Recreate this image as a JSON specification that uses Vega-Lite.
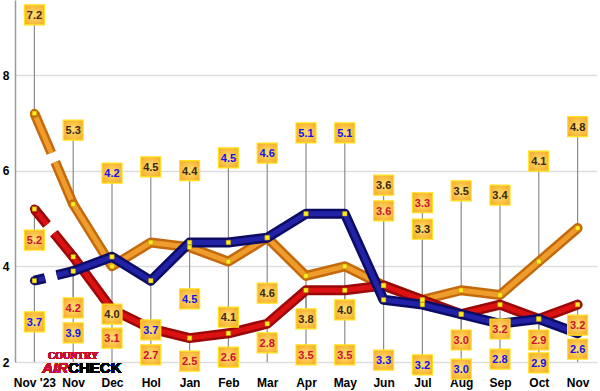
{
  "$schema": "https://vega.github.io/schema/vega-lite/v6.json",
  "width": 582,
  "height": 362,
  "autosize": "none",
  "padding": {"left": 15, "right": 3, "top": 0, "bottom": 29},
  "background": "white",
  "config": {"view": {"stroke": null}, "font": "Liberation Sans"},
  "data": {"values": [
    {"m": "Nov '23", "s": "A", "v": 7.2, "lab": 9.26},
    {"m": "Nov", "s": "A", "v": 5.3, "lab": 6.85},
    {"m": "Dec", "s": "A", "v": 4.0, "lab": 3.0},
    {"m": "Hol", "s": "A", "v": 4.5, "lab": 6.08},
    {"m": "Jan", "s": "A", "v": 4.4, "lab": 6.0},
    {"m": "Feb", "s": "A", "v": 4.1, "lab": 2.94},
    {"m": "Mar", "s": "A", "v": 4.6, "lab": 3.44},
    {"m": "Apr", "s": "A", "v": 3.8, "lab": 2.9},
    {"m": "May", "s": "A", "v": 4.0, "lab": 3.09},
    {"m": "Jun", "s": "A", "v": 3.6, "lab": 5.7},
    {"m": "Jul", "s": "A", "v": 3.3, "lab": 4.78},
    {"m": "Aug", "s": "A", "v": 3.5, "lab": 5.58},
    {"m": "Sep", "s": "A", "v": 3.4, "lab": 5.49},
    {"m": "Oct", "s": "A", "v": 4.1, "lab": 6.2},
    {"m": "Nov ", "s": "A", "v": 4.8, "lab": 6.92},
    {"m": "Nov '23", "s": "B", "v": 5.2, "lab": 4.55},
    {"m": "Nov", "s": "B", "v": 4.2, "lab": 3.13},
    {"m": "Dec", "s": "B", "v": 3.1, "lab": 2.5},
    {"m": "Hol", "s": "B", "v": 2.7, "lab": 2.15},
    {"m": "Jan", "s": "B", "v": 2.5, "lab": 2.02},
    {"m": "Feb", "s": "B", "v": 2.6, "lab": 2.1},
    {"m": "Mar", "s": "B", "v": 2.8, "lab": 2.4},
    {"m": "Apr", "s": "B", "v": 3.5, "lab": 2.15},
    {"m": "May", "s": "B", "v": 3.5, "lab": 2.15},
    {"m": "Jun", "s": "B", "v": 3.6, "lab": 5.16},
    {"m": "Jul", "s": "B", "v": 3.3, "lab": 5.33},
    {"m": "Aug", "s": "B", "v": 3.0, "lab": 2.46},
    {"m": "Sep", "s": "B", "v": 3.2, "lab": 2.69},
    {"m": "Oct", "s": "B", "v": 2.9, "lab": 2.46},
    {"m": "Nov ", "s": "B", "v": 3.2, "lab": 2.77},
    {"m": "Nov '23", "s": "C", "v": 3.7, "lab": 2.84},
    {"m": "Nov", "s": "C", "v": 3.9, "lab": 2.61},
    {"m": "Dec", "s": "C", "v": 4.2, "lab": 5.95},
    {"m": "Hol", "s": "C", "v": 3.7, "lab": 2.67},
    {"m": "Jan", "s": "C", "v": 4.5, "lab": 3.32},
    {"m": "Feb", "s": "C", "v": 4.5, "lab": 6.27},
    {"m": "Mar", "s": "C", "v": 4.6, "lab": 6.37},
    {"m": "Apr", "s": "C", "v": 5.1, "lab": 6.79},
    {"m": "May", "s": "C", "v": 5.1, "lab": 6.79},
    {"m": "Jun", "s": "C", "v": 3.3, "lab": 2.04},
    {"m": "Jul", "s": "C", "v": 3.2, "lab": 1.94},
    {"m": "Aug", "s": "C", "v": 3.0, "lab": 1.85},
    {"m": "Sep", "s": "C", "v": 2.8, "lab": 2.06},
    {"m": "Oct", "s": "C", "v": 2.9, "lab": 1.98},
    {"m": "Nov ", "s": "C", "v": 2.6, "lab": 2.27}
  ]},
  "encoding": {
    "x": {
      "field": "m", "type": "ordinal",
      "sort": ["Nov '23","Nov","Dec","Hol","Jan","Feb","Mar","Apr","May","Jun","Jul","Aug","Sep","Oct","Nov "],
      "scale": {"type": "point", "padding": 0.5},
      "axis": {"title": null, "labelAngle": 0, "domain": false, "ticks": false, "tickSize": 0, "labelPadding": 15, "labelFont": "Liberation Sans", "labelFontSize": 12, "labelFontWeight": "bold", "labelColor": "#000000", "labelExpr": "trim(datum.label)"}
    }
  },
  "layer": [
    {
      "mark": {"type": "rule", "color": "#8c8c8c", "strokeWidth": 1.2},
      "encoding": {
        "y": {"field": "v", "type": "quantitative", "scale": {"domain": [2, 9.57], "nice": false, "zero": false},
          "axis": {"title": null, "values": [2, 4, 6, 8], "grid": true, "gridColor": "#dddddd", "gridWidth": 1.5, "domain": true, "domainColor": "#9a9a9a", "domainWidth": 1.5, "ticks": false, "labelPadding": 6, "labelFont": "Liberation Sans", "labelFontSize": 12, "labelFontWeight": "bold", "labelColor": "#000000"}},
        "y2": {"field": "lab"}
      }
    },
    {
      "transform": [
        {"aggregate": [{"op": "min", "field": "lab", "as": "minL"}, {"op": "min", "field": "v", "as": "minV"}], "groupby": ["m"]},
        {"calculate": "min(datum.minL, datum.minV)", "as": "lo"}
      ],
      "mark": {"type": "rule", "color": "#8c8c8c", "strokeWidth": 1.2},
      "encoding": {"y": {"field": "lo", "type": "quantitative"}, "y2": {"datum": 2}}
    },
    {
      "transform": [{"filter": "datum.s == 'A' && (datum.m == \"Nov '23\" || datum.m == 'Nov')"}],
      "mark": {"type": "line", "color": "#C46A0C", "strokeWidth": 10, "strokeCap": "butt", "strokeDash": [43, 10, 200]},
      "encoding": {"y": {"field": "v", "type": "quantitative"}}
    },
    {
      "transform": [{"filter": "datum.s == 'A' && (datum.m == \"Nov '23\" || datum.m == 'Nov')"}],
      "mark": {"type": "line", "color": "#EE9C2C", "strokeWidth": 5, "strokeCap": "butt", "strokeDash": [43, 10, 200]},
      "encoding": {"y": {"field": "v", "type": "quantitative"}}
    },
    {
      "transform": [{"filter": "datum.s == 'A' && datum.m == \"Nov '23\""}],
      "mark": {"type": "point", "shape": "circle", "filled": true, "color": "#C46A0C", "size": 80, "opacity": 1},
      "encoding": {"y": {"field": "v", "type": "quantitative"}}
    },
    {
      "transform": [{"filter": "datum.s == 'A' && datum.m != \"Nov '23\""}],
      "mark": {"type": "line", "color": "#C46A0C", "strokeWidth": 10, "strokeCap": "round", "strokeJoin": "round"},
      "encoding": {"y": {"field": "v", "type": "quantitative"}}
    },
    {
      "transform": [{"filter": "datum.s == 'A' && datum.m != \"Nov '23\""}],
      "mark": {"type": "line", "color": "#EE9C2C", "strokeWidth": 5, "strokeCap": "round", "strokeJoin": "round"},
      "encoding": {"y": {"field": "v", "type": "quantitative"}}
    },
    {
      "transform": [{"filter": "datum.s == 'B' && (datum.m == \"Nov '23\" || datum.m == 'Nov')"}],
      "mark": {"type": "line", "color": "#9A0808", "strokeWidth": 10, "strokeCap": "butt", "strokeDash": [20, 11, 200]},
      "encoding": {"y": {"field": "v", "type": "quantitative"}}
    },
    {
      "transform": [{"filter": "datum.s == 'B' && (datum.m == \"Nov '23\" || datum.m == 'Nov')"}],
      "mark": {"type": "line", "color": "#DC1212", "strokeWidth": 5, "strokeCap": "butt", "strokeDash": [20, 11, 200]},
      "encoding": {"y": {"field": "v", "type": "quantitative"}}
    },
    {
      "transform": [{"filter": "datum.s == 'B' && datum.m == \"Nov '23\""}],
      "mark": {"type": "point", "shape": "circle", "filled": true, "color": "#9A0808", "size": 80, "opacity": 1},
      "encoding": {"y": {"field": "v", "type": "quantitative"}}
    },
    {
      "transform": [{"filter": "datum.s == 'B' && datum.m != \"Nov '23\""}],
      "mark": {"type": "line", "color": "#9A0808", "strokeWidth": 10, "strokeCap": "round", "strokeJoin": "round"},
      "encoding": {"y": {"field": "v", "type": "quantitative"}}
    },
    {
      "transform": [{"filter": "datum.s == 'B' && datum.m != \"Nov '23\""}],
      "mark": {"type": "line", "color": "#DC1212", "strokeWidth": 5, "strokeCap": "round", "strokeJoin": "round"},
      "encoding": {"y": {"field": "v", "type": "quantitative"}}
    },
    {
      "transform": [{"filter": "datum.s == 'C' && (datum.m == \"Nov '23\" || datum.m == 'Nov')"}],
      "mark": {"type": "line", "color": "#0C0C66", "strokeWidth": 10, "strokeCap": "butt", "strokeDash": [11, 12, 200]},
      "encoding": {"y": {"field": "v", "type": "quantitative"}}
    },
    {
      "transform": [{"filter": "datum.s == 'C' && (datum.m == \"Nov '23\" || datum.m == 'Nov')"}],
      "mark": {"type": "line", "color": "#2222A6", "strokeWidth": 5, "strokeCap": "butt", "strokeDash": [11, 12, 200]},
      "encoding": {"y": {"field": "v", "type": "quantitative"}}
    },
    {
      "transform": [{"filter": "datum.s == 'C' && datum.m == \"Nov '23\""}],
      "mark": {"type": "point", "shape": "circle", "filled": true, "color": "#0C0C66", "size": 80, "opacity": 1},
      "encoding": {"y": {"field": "v", "type": "quantitative"}}
    },
    {
      "transform": [{"filter": "datum.s == 'C' && datum.m != \"Nov '23\""}],
      "mark": {"type": "line", "color": "#0C0C66", "strokeWidth": 10, "strokeCap": "round", "strokeJoin": "round"},
      "encoding": {"y": {"field": "v", "type": "quantitative"}}
    },
    {
      "transform": [{"filter": "datum.s == 'C' && datum.m != \"Nov '23\""}],
      "mark": {"type": "line", "color": "#2222A6", "strokeWidth": 5, "strokeCap": "round", "strokeJoin": "round"},
      "encoding": {"y": {"field": "v", "type": "quantitative"}}
    },
    {
      "mark": {"type": "point", "shape": "square", "filled": true, "color": "#FFEE22", "size": 20, "opacity": 1, "stroke": "#B89000", "strokeWidth": 0.5},
      "encoding": {"y": {"field": "v", "type": "quantitative"}}
    },
    {
      "mark": {"type": "point", "shape": "square", "size": 400, "opacity": 1, "strokeWidth": 1.2, "stroke": "#FFE21A",
        "fill": {"gradient": "radial", "x1": 0.5, "y1": 0.5, "r1": 0, "x2": 0.5, "y2": 0.5, "r2": 0.75,
          "stops": [{"offset": 0, "color": "#FFE070"}, {"offset": 1, "color": "#F5A21E"}]}},
      "encoding": {"y": {"field": "lab", "type": "quantitative"}}
    },
    {
      "mark": {"type": "text", "font": "Liberation Sans", "fontSize": 11, "fontWeight": "bold", "baseline": "middle", "align": "center", "dy": 1},
      "encoding": {
        "y": {"field": "lab", "type": "quantitative"},
        "text": {"field": "v", "type": "quantitative", "format": ".1f"},
        "color": {"field": "s", "type": "nominal", "scale": {"domain": ["A", "B", "C"], "range": ["#3A2810", "#CC1133", "#1212EE"]}, "legend": null}
      }
    },
    {
      "mark": {"type": "text", "font": "Liberation Serif", "fontSize": 10, "fontWeight": "bold", "color": "#C8102E", "align": "center", "baseline": "alphabetic", "dx": 0},
      "encoding": {"x": {"datum": "Nov"}, "y": {"datum": 2.07}, "text": {"value": "COUNTRY"}}
    },
    {
      "mark": {"type": "text", "font": "Liberation Sans", "fontSize": 15, "fontWeight": "bold", "fontStyle": "italic", "color": "#C8102E", "align": "right", "baseline": "alphabetic", "dx": -5},
      "encoding": {"x": {"datum": "Nov"}, "y": {"datum": 1.77}, "text": {"value": "AIR"}}
    },
    {
      "mark": {"type": "text", "font": "Liberation Sans", "fontSize": 15, "fontWeight": "bold", "color": "#000000", "align": "left", "baseline": "alphabetic", "dx": -5},
      "encoding": {"x": {"datum": "Nov"}, "y": {"datum": 1.77}, "text": {"value": "CHECK"}}
    }
  ]
}
